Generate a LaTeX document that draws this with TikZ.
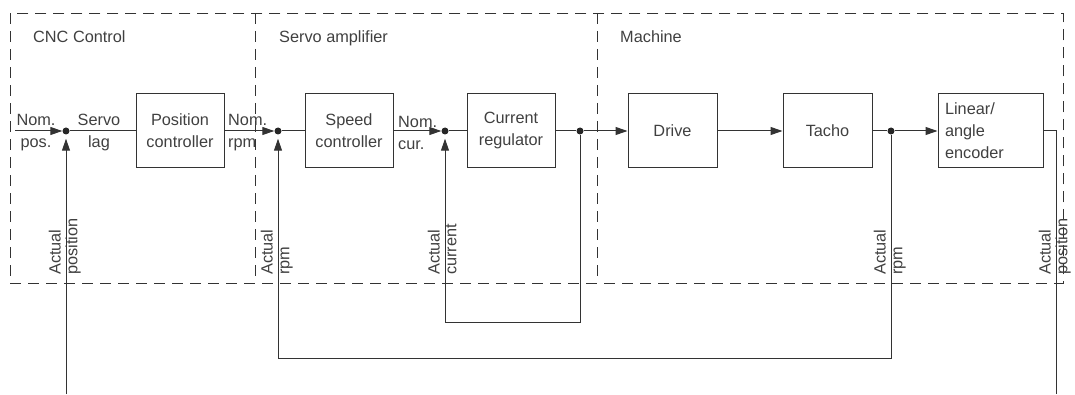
\documentclass[tikz,border=0pt]{standalone}
\usepackage{fontspec}
\setmainfont{Liberation Sans}
\usetikzlibrary{arrows.meta,positioning,calc}

\begin{document}
\begin{tikzpicture}[
  x=1pt, y=1pt,
  font=\fontsize{16.3}{22}\selectfont,
  block/.style={draw=black!80, line width=1pt, minimum width=88pt, minimum height=74pt, align=center, inner sep=0pt, text=black!75},
  region/.style={draw=black!80, line width=0.9pt, dash pattern=on 11pt off 7pt},
  dot/.style={circle, fill=black!85, inner sep=0pt, minimum size=7pt},
  sig/.style={inner sep=0pt, align=center, text=black!75},
  vlab/.style={rotate=90, inner sep=0pt, text height=0.72em, text depth=0.21em, text=black!75},
  wire/.style={draw=black!80, line width=1pt},
  >={Triangle[length=12pt,width=8pt]}
]
  \useasboundingbox (0,0) rectangle (1075,394);

  % Regions
  \node[region, anchor=north west, inner sep=0pt, minimum width=1053pt, minimum height=270pt] (sys) at (10,381) {};
  \draw[region] (255,381) -- (255,113);
  \draw[region] (597,381) -- (597,113);
  \node[sig, anchor=base west] (cnclab) at (33,351) {CNC Control};
  \node[sig, anchor=base west] (servolab) at (279,351) {Servo amplifier};
  \node[sig, anchor=base west] (machlab) at (620,351) {Machine};

  % Blocks
  \node[block] (pc) at (180,263) {Position\\controller};
  \node[block] (sc) at (349,263) {Speed\\controller};
  \node[block] (cr) at (511,263) {Current\\regulator};
  \node[block, minimum width=89pt] (drive) at (672.5,263) {Drive};
  \node[block, minimum width=89pt] (tacho) at (827.5,263) {Tacho};
  \node[block, minimum width=105pt, text width=91pt, align=left] (enc) at (990.5,263) {Linear/\\angle\\encoder};

  % Junctions
  \node[dot] (sum1) at (66,263) {};
  \node[dot] (sum2) at (278,263) {};
  \node[dot] (sum3) at (445,263) {};
  \node[dot] (bd1) at (580,263) {};
  \node[dot] (bd2) at (891,263) {};

  % Free ends and corners
  \coordinate (in) at (15,263);
  \coordinate (posfb) at (66,0);
  \coordinate (encfb) at (1056,0);
  \coordinate (curfb) at (445,72);
  \coordinate (rpmfb) at (278,36);

  % Signal labels
  \node[sig] (nompos) at (36,261) {Nom.\\pos.};
  \node[sig] (servolag) at (99,261) {Servo\\lag};
  \node[sig, align=left, anchor=west] (nomrpm) at (228,261) {Nom.\\rpm};
  \node[sig, align=left, anchor=west] (nomcur) at (398,261) {Nom.\\cur.};

  % Feedback labels
  \node[vlab, anchor=south west] (actpos) at (63,119) {Actual};
  \node[vlab, anchor=north west] (actposb) at (70,119) {position};
  \node[vlab, anchor=south west] (actrpm) at (275,119) {Actual};
  \node[vlab, anchor=north west] (actrpmb) at (282,119) {rpm};
  \node[vlab, anchor=south west] (actcur) at (442,119) {Actual};
  \node[vlab, anchor=north west] (actcurb) at (449,119) {current};
  \node[vlab, anchor=south west] (actrpm2) at (888,119) {Actual};
  \node[vlab, anchor=north west] (actrpm2b) at (895,119) {rpm};
  \node[vlab, anchor=south west] (actenc) at (1053,119) {Actual};
  \node[vlab, anchor=north west] (actencb) at (1060,119) {position};

  % Forward path
  \draw[wire, ->] (in) -- (sum1);
  \draw[wire] (sum1) -- (pc);
  \draw[wire, ->] (pc) -- (sum2);
  \draw[wire] (sum2) -- (sc);
  \draw[wire, ->] (sc) -- (sum3);
  \draw[wire] (sum3) -- (cr);
  \draw[wire] (cr) -- (bd1);
  \draw[wire, ->] (bd1) -- (drive);
  \draw[wire, ->] (drive) -- (tacho);
  \draw[wire] (tacho) -- (bd2);
  \draw[wire, ->] (bd2) -- (enc);

  % Feedback paths
  \draw[wire, ->, shorten >=4pt] (posfb) -- (sum1);
  \draw[wire, ->, shorten >=4pt] (bd1) |- (curfb) -- (sum3);
  \draw[wire, ->, shorten >=4pt] (bd2) |- (rpmfb) -- (sum2);
  \draw[wire] (enc.east) -| (encfb);

\end{tikzpicture}
\end{document}
